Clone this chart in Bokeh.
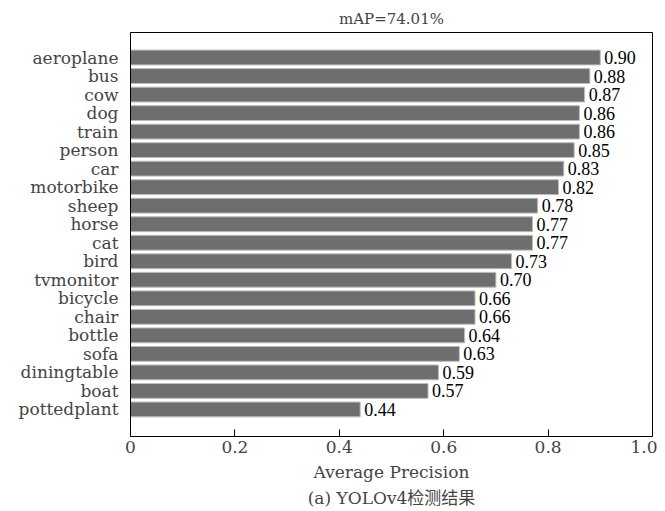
from bokeh.plotting import figure
from bokeh.models import Range1d, FixedTicker, ColumnDataSource, Title, LabelSet
from bokeh.embed import file_html
from bokeh.resources import INLINE

categories = ["aeroplane", "bus", "cow", "dog", "train", "person", "car",
              "motorbike", "sheep", "horse", "cat", "bird", "tvmonitor",
              "bicycle", "chair", "bottle", "sofa", "diningtable", "boat",
              "pottedplant"]
ap_values = [0.90, 0.88, 0.87, 0.86, 0.86, 0.85, 0.83, 0.82, 0.78, 0.77,
             0.77, 0.73, 0.70, 0.66, 0.66, 0.64, 0.63, 0.59, 0.57, 0.44]
x_ticks = [0, 0.2, 0.4, 0.6, 0.8, 1.0]
x_tick_labels = ["0", "0.2", "0.4", "0.6", "0.8", "1.0"]
title_text = "mAP=74.01%"
x_label = "Average Precision"
caption_text = "(a) YOLOv4检测结果"

FONT = "DejaVu Serif"
CAP_FONT = "DejaVu Serif, Noto Sans CJK SC"
n = len(categories)
positions = [n - 1 - i for i in range(n)]
source = ColumnDataSource(dict(
    y=positions,
    ap=ap_values,
    label=[f"{v:.2f}" for v in ap_values],
))

p = figure(width=657, height=508, output_backend="svg", toolbar_location=None,
           x_range=Range1d(0, 1.0), y_range=Range1d(-1.46, n - 1 + 1.35),
           min_border_left=130, min_border_right=5, min_border_top=32,
           min_border_bottom=0)

p.hbar(y="y", left=0, right="ap", height=0.8, source=source,
       fill_color="#6e6e6e", line_color="#bdbdbd", line_width=1)

labels = LabelSet(x="ap", y="y", text="label", source=source, x_offset=4,
                  text_baseline="middle", text_align="left",
                  text_font=FONT, text_font_size="18px", text_color="black")
p.add_layout(labels)

p.title.text = title_text
p.title.align = "center"
p.title.text_font = FONT
p.title.text_font_size = "15px"
p.title.text_font_style = "normal"

# x axis
xa = p.xaxis[0]
xa.ticker = FixedTicker(ticks=x_ticks)
xa.major_label_overrides = {t: l for t, l in zip(x_ticks, x_tick_labels)}
xa.major_tick_in = 7
xa.major_tick_out = 0
xa.minor_tick_in = 0
xa.minor_tick_out = 0
xa.major_label_standoff = 4
xa.major_label_text_font = FONT
xa.major_label_text_font_size = "17px"
xa.axis_label = x_label
xa.axis_label_text_font = FONT
xa.axis_label_text_font_size = "17px"
xa.axis_label_text_font_style = "normal"
xa.axis_label_standoff = 6
xa.axis_line_color = "black"

# y axis
ya = p.yaxis[0]
ya.ticker = FixedTicker(ticks=positions)
ya.major_label_overrides = {pos: c for pos, c in zip(positions, categories)}
ya.major_tick_in = 0
ya.major_tick_out = 0
ya.minor_tick_in = 0
ya.minor_tick_out = 0
ya.major_label_standoff = 12
ya.major_label_text_font = FONT
ya.major_label_text_font_size = "17px"
ya.axis_line_color = "black"

p.xgrid.visible = False
p.ygrid.visible = False
p.outline_line_color = "black"
p.outline_line_alpha = 1.0

cap = Title(text=caption_text, align="center", text_font=CAP_FONT,
            text_font_size="17px", text_font_style="normal", standoff=2)
p.add_layout(cap, "below")

open("out.html", "w").write(file_html(p, INLINE))
